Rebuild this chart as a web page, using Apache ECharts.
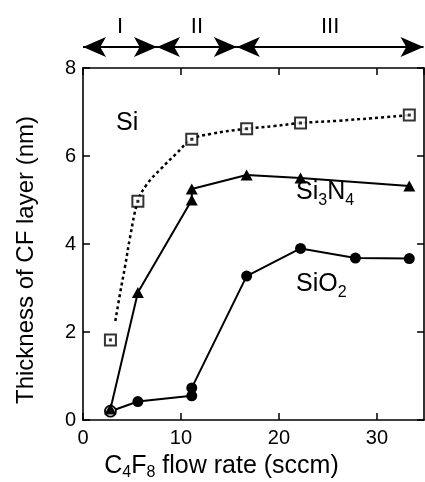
<!DOCTYPE html>
<html>
<head>
<meta charset="utf-8">
<script src="https://cdn.jsdelivr.net/npm/echarts@6/dist/echarts.min.js"></script>
<style>
  html, body { margin: 0; padding: 0; background: #fff; }
  #chart { width: 425px; height: 482px; }
</style>
</head>
<body>
<div id="chart"></div>
<script>
// C4F8 flow rate (sccm) vs. CF layer thickness (nm)
const flowTicks = [0, 10, 20, 30];
const thicknessTicks = [0, 2, 4, 6, 8];

// measured layer thickness on each substrate
const siPoints = [[2.8, 1.82], [5.6, 4.97], [11.1, 6.38], [16.7, 6.62], [22.2, 6.75], [33.3, 6.93]];
const si3n4Points = [[2.8, 0.25], [5.6, 2.9], [11.1, 5.0], [11.1, 5.25], [16.7, 5.57], [22.2, 5.5], [33.3, 5.32]];
const sio2Points = [[2.8, 0.2], [5.6, 0.42], [11.1, 0.55], [11.1, 0.73], [16.7, 3.27], [22.2, 3.9], [27.8, 3.68], [33.3, 3.67]];

// dotted guide curve through the Si data
const siTrend = [[3.3, 2.25], [3.8, 2.9], [4.3, 3.5], [4.8, 4.15], [5.6, 4.97], [6.5, 5.35], [8.0, 5.72],
                 [9.5, 6.05], [11.1, 6.38], [13.0, 6.5], [16.7, 6.62], [19.5, 6.68], [22.2, 6.75],
                 [26.0, 6.8], [29.5, 6.86], [33.3, 6.93]];

// deposition regimes along the flow-rate axis
const regimeBounds = [0, 7.55, 15.7, 34.75];
const regimeNames = ['I', 'II', 'III'];

const FONT = '"Liberation Sans", Arial, Helvetica, sans-serif';
const black = '#000';
const xMax = 34.8;

const chart = echarts.init(document.getElementById('chart'), null, { renderer: 'canvas' });

const tickStyle = { show: true, inside: true, length: 7, lineStyle: { color: black, width: 1.5 } };
const lineAxis = { show: true, onZero: false, lineStyle: { color: black, width: 1.6 } };
const labelStyle = { color: black, fontFamily: FONT, fontSize: 20 };

const regimeLines = regimeNames.map((n, i) => [
  { coord: [regimeBounds[i], 0.5], name: n },
  { coord: [regimeBounds[i + 1], 0.5] }
]);

const option = {
  animation: false,
  backgroundColor: '#fff',
  grid: [
    { left: 83, right: 1, top: 68, height: 352, outerBoundsMode: 'none', containLabel: false },
    { left: 83, right: 1, top: 30, height: 34, outerBoundsMode: 'none', containLabel: false }
  ],
  xAxis: [
    {
      type: 'value', gridIndex: 0, position: 'bottom',
      min: flowTicks[0], max: xMax, interval: 10,
      axisLine: lineAxis, axisTick: tickStyle, splitLine: { show: false },
      axisLabel: Object.assign({ margin: 8, showMaxLabel: false,
        formatter: v => flowTicks.includes(v) ? String(v) : '' }, labelStyle),
      name: '{m|C}{s|4}{m|F}{s|8}{m| flow rate (sccm)}',
      nameLocation: 'middle', nameGap: 32,
      nameTextStyle: {
        padding: [0, 64, 0, 0],
        rich: {
          m: { fontFamily: FONT, fontSize: 25, color: black },
          s: { fontFamily: FONT, fontSize: 16, color: black, padding: [13, 0, 0, 0] }
        }
      }
    },
    {
      type: 'value', gridIndex: 0, position: 'top',
      min: flowTicks[0], max: xMax, interval: 10,
      axisLine: lineAxis, axisTick: tickStyle, axisLabel: { show: false }, splitLine: { show: false }
    },
    {
      type: 'value', gridIndex: 1, min: flowTicks[0], max: xMax, show: false
    }
  ],
  yAxis: [
    {
      type: 'value', gridIndex: 0, position: 'left',
      min: thicknessTicks[0], max: thicknessTicks[thicknessTicks.length - 1], interval: 2,
      axisLine: lineAxis, axisTick: tickStyle, splitLine: { show: false },
      axisLabel: Object.assign({ margin: 7 }, labelStyle),
      name: 'Thickness of CF layer (nm)',
      nameLocation: 'middle', nameGap: 45,
      nameTextStyle: { color: black, fontFamily: FONT, fontSize: 24, padding: [0, 32, 0, 0] }
    },
    {
      type: 'value', gridIndex: 0, position: 'right',
      min: thicknessTicks[0], max: thicknessTicks[thicknessTicks.length - 1], interval: 2,
      axisLine: lineAxis, axisTick: tickStyle, axisLabel: { show: false }, splitLine: { show: false }
    },
    { type: 'value', gridIndex: 1, min: 0, max: 1, show: false }
  ],
  series: [
    {
      name: 'Si trend', type: 'line', xAxisIndex: 0, yAxisIndex: 0,
      data: siTrend, smooth: 0.4, showSymbol: false, symbol: 'none',
      lineStyle: { color: black, width: 2.5, type: [3, 3] }, z: 2
    },
    {
      name: 'SiO2', type: 'line', xAxisIndex: 0, yAxisIndex: 0,
      data: sio2Points.map((p, i) => i === 0
        ? { value: p, itemStyle: { color: '#fff', borderColor: black, borderWidth: 1.8 } }
        : p),
      symbol: 'circle', symbolSize: 11,
      lineStyle: { color: black, width: 2 }, itemStyle: { color: black }, z: 3
    },
    {
      name: 'Si3N4', type: 'line', xAxisIndex: 0, yAxisIndex: 0,
      data: si3n4Points, symbol: 'triangle', symbolSize: [12, 11],
      lineStyle: { color: black, width: 2 }, itemStyle: { color: black }, z: 4
    },
    {
      name: 'Si', type: 'scatter', xAxisIndex: 0, yAxisIndex: 0,
      data: siPoints, symbol: 'rect', symbolSize: 11,
      itemStyle: { color: '#fff', borderColor: black, borderWidth: 2 }, z: 5
    },
    {
      name: 'Si centre', type: 'scatter', xAxisIndex: 0, yAxisIndex: 0,
      data: siPoints, symbol: 'rect', symbolSize: 3,
      itemStyle: { color: black }, z: 6, silent: true
    },
    {
      name: 'regimes', type: 'line', xAxisIndex: 2, yAxisIndex: 2, data: [],
      markLine: {
        silent: true, animation: false,
        symbol: ['arrow', 'arrow'], symbolSize: [15, 23],
        lineStyle: { color: black, width: 2, type: 'solid' },
        label: { show: true, position: 'middle', formatter: '{b}', distance: 9,
                 color: black, fontFamily: FONT, fontSize: 22 },
        data: regimeLines
      }
    }
  ],
  graphic: [
    { type: 'text', left: 116, top: 111,
      style: { text: 'Si', font: '25px ' + FONT, fill: black } },
    { type: 'text', left: 296, top: 180,
      style: { text: '{m|Si}{s|3}{m|N}{s|4}', fill: black,
        rich: { m: { fontFamily: FONT, fontSize: 25, fill: black },
                s: { fontFamily: FONT, fontSize: 16, fill: black, padding: [17, 0, 0, 0] } } } },
    { type: 'text', left: 296, top: 272,
      style: { text: '{m|SiO}{s|2}', fill: black,
        rich: { m: { fontFamily: FONT, fontSize: 25, fill: black },
                s: { fontFamily: FONT, fontSize: 16, fill: black, padding: [17, 0, 0, 0] } } } }
  ]
};

chart.setOption(option);
</script>
</body>
</html>
